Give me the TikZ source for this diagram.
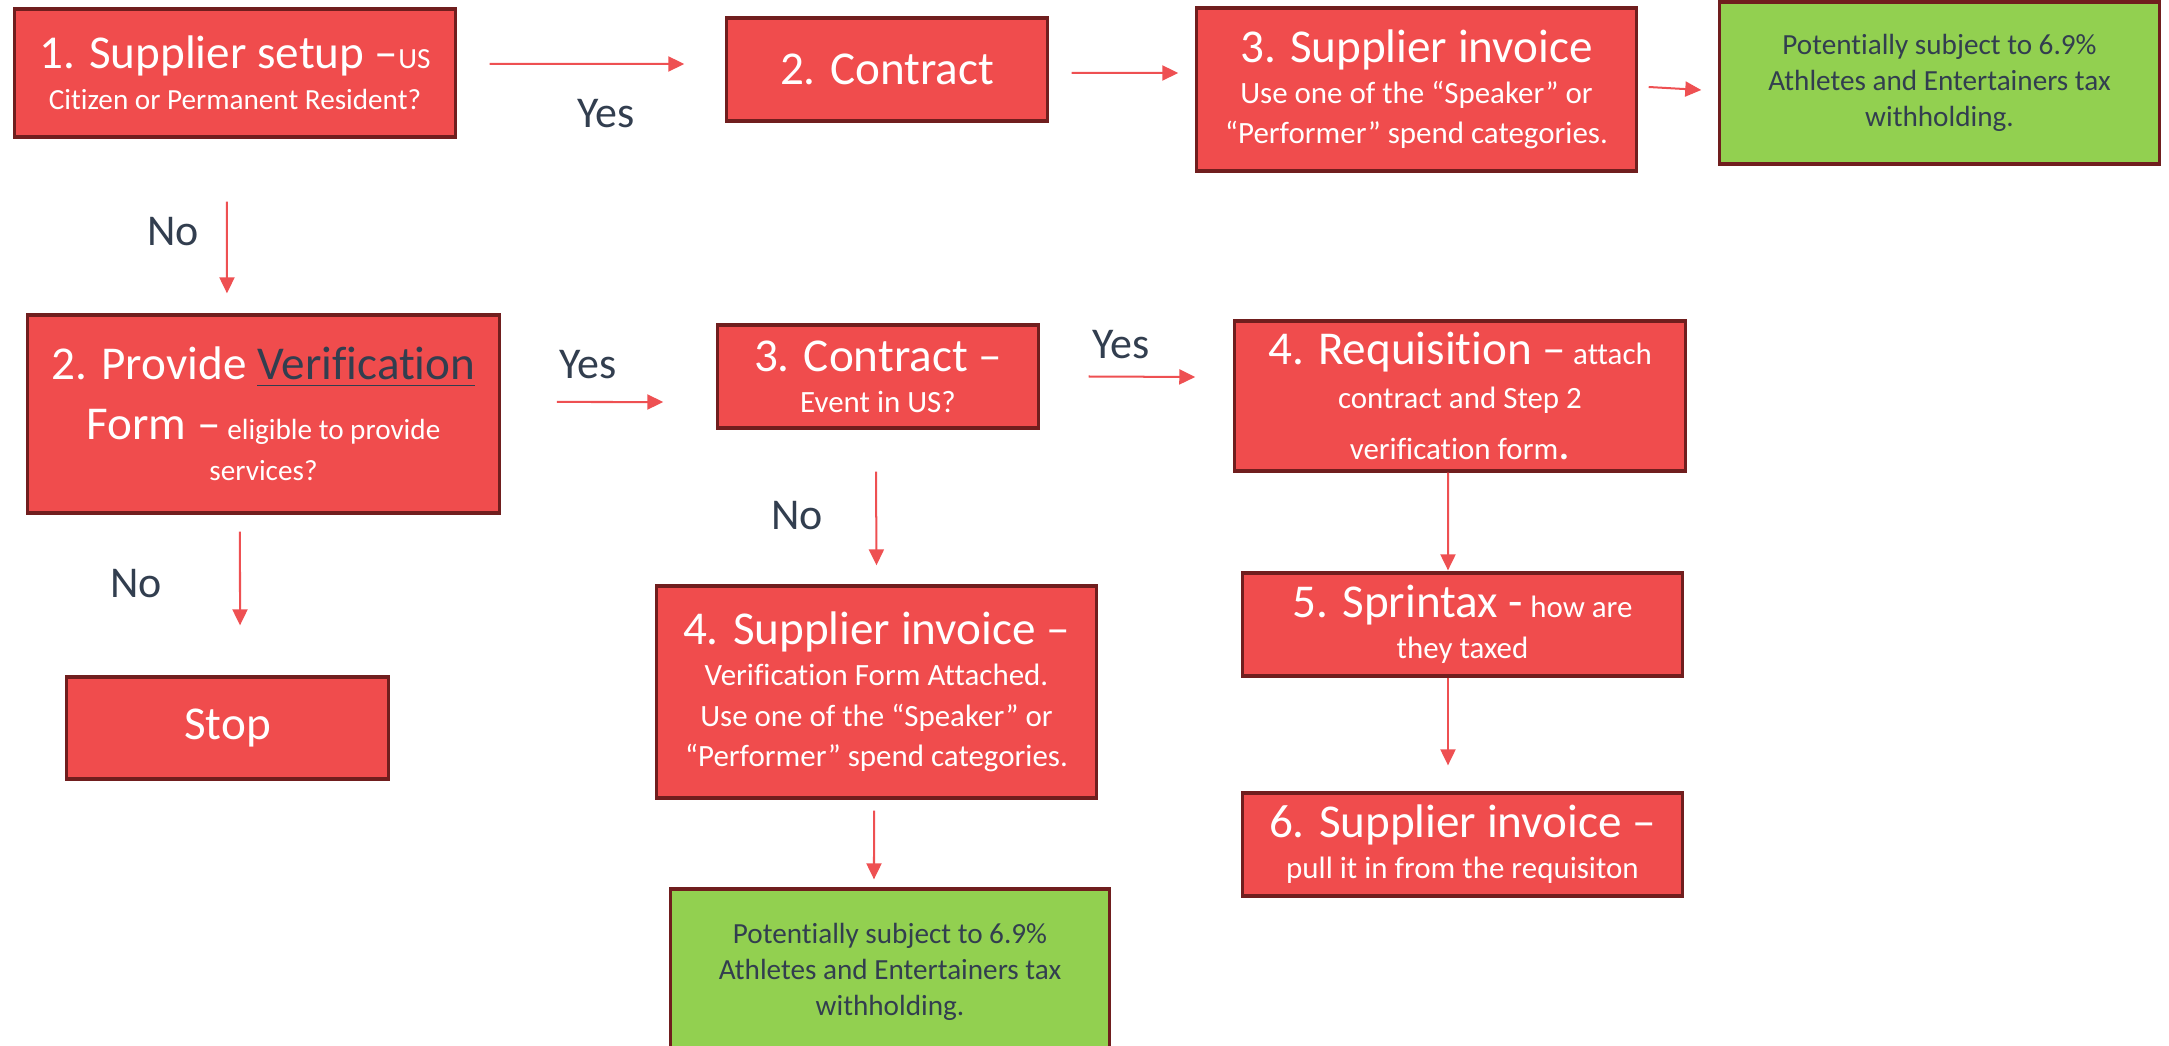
\documentclass[tikz,border=0pt]{standalone}
\usepackage{fontspec}
\setmainfont[Ligatures=NoCommon]{Carlito}
\usepackage{tikz}
\usetikzlibrary{shapes,arrows,arrows.meta,positioning,calc}

\definecolor{boxred}{RGB}{240,76,77}
\definecolor{boxedge}{RGB}{112,30,30}
\definecolor{boxgreen}{RGB}{146,208,80}
\definecolor{txtdark}{RGB}{50,62,79}
\definecolor{arrowred}{RGB}{238,80,82}

\newcommand{\bigtxt}{\fontsize{13.4}{16.5}\selectfont}
\newcommand{\smtxt}{\fontsize{8.8}{11.6}\selectfont}
\newcommand{\lowtxt}{\fontsize{8.3}{11.6}\selectfont}

\tikzset{
  redbox/.style={draw=boxedge, line width=0.9pt, fill=boxred, text=white,
    align=center, inner sep=0pt, font=\smtxt},
  greenbox/.style={draw=boxedge, line width=0.9pt, fill=boxgreen, text=txtdark,
    align=center, inner sep=0pt, font=\fontsize{8.3}{10.2}\selectfont},
  flow/.style={-{Triangle[length=0.16cm,width=0.15cm]}, draw=arrowred, line width=0.57pt},
  answer/.style={text=txtdark, font=\fontsize{12.5}{15}\selectfont},
}

\begin{document}
\begin{tikzpicture}[x=0.01cm,y=-0.01cm]
      \clip (0,0) rectangle (2169,1046);

      \coordinate (setup) at (235,73);
      \coordinate (contract) at (887,69.5);
      \coordinate (invoice) at (1416.5,89.5);
      \coordinate (taxa) at (1939.5,83);
      \coordinate (verify) at (263.5,414);
      \coordinate (event) at (878,376.5);
      \coordinate (req) at (1460,396);
      \coordinate (stop) at (227.5,728);
      \coordinate (attached) at (876.5,692);
      \coordinate (taxb) at (890,972);
      \coordinate (sprintax) at (1462.5,624.5);
      \coordinate (pull) at (1462.5,844.5);

      \node[redbox,minimum width=4.40cm,minimum height=1.28cm] (setupn) at (setup)
        {{\bigtxt 1. Supplier setup –}{\lowtxt US}\\{\lowtxt Citizen or Permanent Resident?}};
      \node[redbox,minimum width=3.20cm,minimum height=1.03cm] (contractn) at (contract)
        {{\bigtxt 2. Contract}};
      \node[redbox,minimum width=4.39cm,minimum height=1.63cm] (invoicen) at (invoice)
        {{\bigtxt 3. Supplier invoice}\\Use one of the “Speaker” or\\“Performer” spend categories.};
      \node[greenbox,minimum width=4.39cm,minimum height=1.62cm] (taxan) at (taxa)
        {Potentially subject to 6.9\%\\Athletes and Entertainers tax\\withholding.};

      \node[redbox,font=\lowtxt,minimum width=4.71cm,minimum height=1.98cm] (verifyn) at (verify)
        {{\bigtxt 2. Provide {\color{txtdark}\underline{Verification}}}\\[0.19cm]
         {\bigtxt Form –} eligible to provide\\services?};
      \node[redbox,minimum width=3.20cm,minimum height=1.03cm] (eventn) at (event)
        {{\bigtxt 3. Contract –}\\Event in US?};
      \node[redbox,minimum width=4.50cm,minimum height=1.50cm] (reqn) at (req)
        {{\bigtxt 4. Requisition –} attach\\[0.03cm]contract and Step 2\\[0.1cm]verification form{\bigtxt .}};

      \node[redbox,minimum width=3.21cm,minimum height=1.02cm] (stopn) at (stop) {{\bigtxt Stop}};
      \node[redbox,minimum width=4.39cm,minimum height=2.12cm] (attachedn) at (attached)
        {{\bigtxt 4. Supplier invoice –}\\Verification Form Attached.\\Use one of the “Speaker” or\\“Performer” spend categories.};
      \node[greenbox,minimum width=4.38cm,minimum height=1.66cm] (taxbn) at (taxb)
        {Potentially subject to 6.9\%\\Athletes and Entertainers tax\\withholding.};
      \node[redbox,minimum width=4.39cm,minimum height=1.03cm] (sprintaxn) at (sprintax)
        {{\bigtxt 5. Sprintax -} how are\\they taxed};
      \node[redbox,minimum width=4.39cm,minimum height=1.03cm] (pulln) at (pull)
        {{\bigtxt 6. Supplier invoice –}\\pull it in from the requisiton};

      \node[answer] (yes1) at (606,114) {Yes};
      \node[answer] (no1) at (173,232) {No};
      \node[answer] (yes2) at (588,365) {Yes};
      \node[answer] (yes3) at (1121,345) {Yes};
      \node[answer] (no2) at (136,584) {No};
      \node[answer] (no3) at (797,516) {No};

      \draw[flow] ([xshift=0.33cm,yshift=0.09cm]setupn.east) -- ([xshift=-0.41cm,yshift=0.055cm]contractn.west);
      \draw[flow] ([xshift=0.23cm,yshift=-0.035cm]contractn.east) -- ([xshift=-0.17cm,yshift=0.165cm]invoicen.west);
      \draw[flow] ([xshift=0.11cm,yshift=0.025cm]invoicen.east) -- ([xshift=-0.17cm,yshift=-0.07cm]taxan.west);
      \draw[flow] ([xshift=-0.08cm,yshift=-0.63cm]setupn.south) -- ([xshift=-0.365cm,yshift=0.20cm]verifyn.north);

      \draw[flow] ([xshift=0.56cm,yshift=0.12cm]verifyn.east) -- ([xshift=-0.53cm,yshift=-0.255cm]eventn.west);
      \draw[flow] ([xshift=0.49cm]eventn.east) -- ([xshift=-0.38cm,yshift=0.19cm]reqn.west);
      \draw[flow] ([xshift=-0.235cm,yshift=-0.17cm]verifyn.south) -- ([xshift=0.125cm,yshift=0.50cm]stopn.north);
      \draw[flow] ([xshift=-0.02cm,yshift=-0.42cm]eventn.south) -- ([yshift=0.19cm]attachedn.north);
      \draw[flow] ([xshift=-0.025cm,yshift=-0.11cm]attachedn.south) -- ([xshift=-0.16cm,yshift=0.08cm]taxbn.north);
      \draw[flow] ([xshift=-0.12cm]reqn.south) -- ([xshift=-0.145cm,yshift=0.01cm]sprintaxn.north);
      \draw[flow] ([xshift=-0.145cm]sprintaxn.south) -- ([xshift=-0.145cm,yshift=0.26cm]pulln.north);
\end{tikzpicture}
\end{document}
